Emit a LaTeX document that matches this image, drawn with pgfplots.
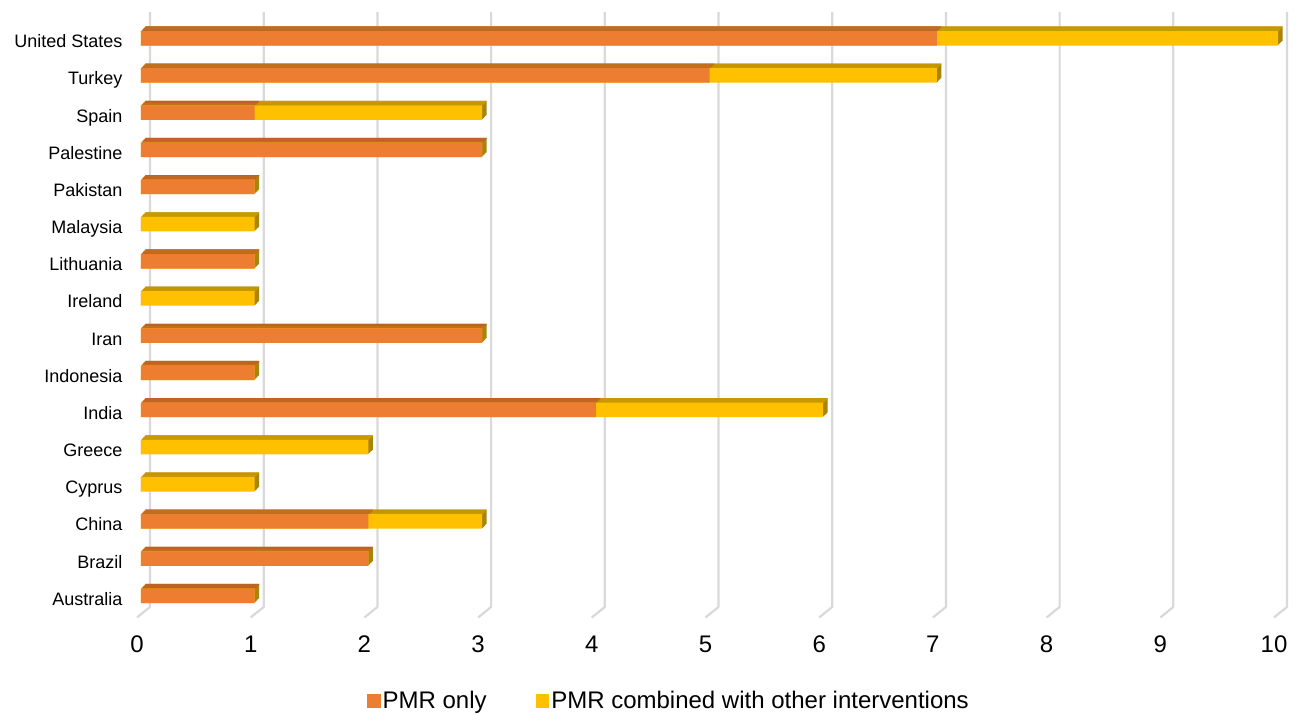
\documentclass[border=0pt]{standalone}
\usepackage{fontspec}
\setmainfont{Liberation Sans}
\usepackage{pgfplots}
\usepackage{pgfplotstable}
\pgfplotsset{compat=1.18}

\definecolor{pmr}{HTML}{ED7D31}
\definecolor{pmrtop}{HTML}{BF6028}
\definecolor{comb}{HTML}{FFC000}
\definecolor{combtop}{HTML}{C99A00}
\definecolor{sidec}{HTML}{A8850A}
\definecolor{gridc}{HTML}{D9D9D9}

% studies per country: PMR alone and PMR combined with other interventions
\pgfplotstableread{
y  pmr comb
15 7 3
14 5 2
13 1 2
12 3 0
11 1 0
10 0 1
9  1 0
8  0 1
7  3 0
6  1 0
5  4 2
4  0 2
3  0 1
2  2 1
1  2 0
0  1 0
}\countries

\pgfplotsset{
  base/.style={
    scale only axis, width=568.5pt, height=297.35pt,
    xmin=0, xmax=10, ymin=-0.5, ymax=15.5,
    clip=false, xbar, bar width=7.25pt,
    at={(0,0)}, anchor=south west,
  },
  face/.style={draw=none, bar shift=0pt, forget plot},
  sqlegend/.style={
    legend image code/.code={%
      \fill[##1, overlay] (0pt,-3.4pt) rectangle (6.8pt,3.4pt);
      \path (0pt,-3.4pt) rectangle (5.8pt,3.4pt);}
  },
}

\begin{document}
\begin{tikzpicture}
% back layer: wall and floor grid
\begin{axis}[base, hide axis]
  \pgfplotsinvokeforeach{0,...,10}{
    \draw[gridc, line width=1.1pt, line join=round]
      ([xshift=4.5pt]axis cs:#1,15.71) -- ([xshift=4.5pt]axis cs:#1,-0.30)
      -- ([xshift=-2pt]axis cs:#1,-0.583);
  }
\end{axis}
% bars, tick labels and legend
\begin{axis}[base,
  axis line style={draw=none}, tick style={draw=none},
  xtick={0,...,10}, ytick={0,...,15},
  yticklabels={Australia,Brazil,China,Cyprus,Greece,India,Indonesia,Iran,Ireland,Lithuania,Malaysia,Pakistan,Palestine,Spain,Turkey,United States},
  yticklabel style={font=\fontsize{9}{11}\selectfont, anchor=base east, xshift=-1.5pt, yshift=-4.75pt},
  xticklabel style={font=\fontsize{12}{14}\selectfont, anchor=base, yshift=-19.3pt, xshift=-2pt},
  /pgf/number format/assume math mode=true,
  legend columns=2,
  legend style={draw=none, fill=none, at={(0.4652,-0.1456)}, anchor=center,
    font=\fontsize{12}{14}\selectfont,
    /tikz/every even column/.append style={column sep=22.5pt}},
]
  % right-hand side faces of the extruded bars
  \pgfplotsinvokeforeach{5,4,3,2,1}{
    \addplot[face, fill=sidec, xshift=#1*0.45pt, yshift=#1*0.45pt]
      table[x expr=\thisrow{pmr}+\thisrow{comb}, y=y] {\countries};
  }
  % slanted top faces, built from thin strips
  \pgfplotsinvokeforeach{1,...,5}{
    \addplot[face, fill=combtop, bar width=0.55pt,
      xshift=#1*0.45pt, yshift=3.625pt+#1*0.45pt-0.225pt]
      table[x expr=\thisrow{pmr}+\thisrow{comb}, y=y] {\countries};
    \addplot[face, fill=pmrtop, bar width=0.55pt,
      xshift=#1*0.45pt, yshift=3.625pt+#1*0.45pt-0.225pt]
      table[x=pmr, y=y] {\countries};
  }
  % front faces
  \addplot[face, fill=comb] table[x expr=\thisrow{pmr}+\thisrow{comb}, y=y] {\countries};
  \addplot[face, fill=pmr] table[x=pmr, y=y] {\countries};
  \addlegendimage{sqlegend, fill=pmr, draw=none}
  \addlegendentry{PMR only}
  \addlegendimage{sqlegend, fill=comb, draw=none}
  \addlegendentry{PMR combined with other interventions}
\end{axis}
\pgfresetboundingbox
\useasboundingbox (-70.5pt,-50.3pt) rectangle (579pt,307.2pt);
\end{tikzpicture}
\end{document}
